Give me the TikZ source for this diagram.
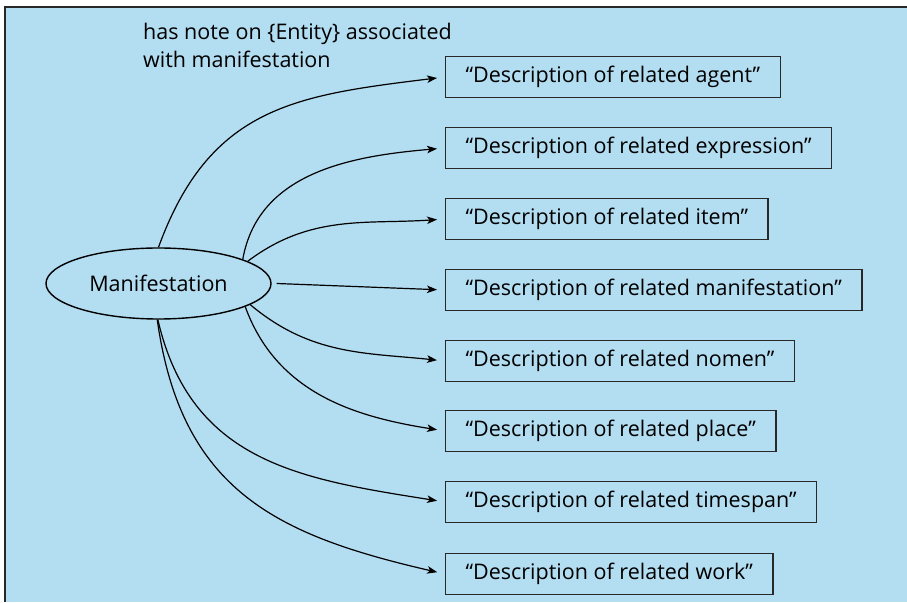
\documentclass[tikz,border=0pt]{standalone}
\usepackage{fontspec}
\setmainfont{Open Sans}
\usetikzlibrary{arrows.meta,shapes.geometric}
\definecolor{panel}{RGB}{179,221,241}
\definecolor{edge}{RGB}{40,40,40}
\begin{document}
\begin{tikzpicture}[x=1pt,y=1pt,
  labelfont/.style={font=\fontsize{21.5}{28}\selectfont},
  desc/.style={draw=edge, line width=1.3pt, anchor=west, minimum height=41pt,
    inner xsep=20pt, labelfont},
  link/.style={-{Stealth[length=10pt,width=7.5pt,inset=2.5pt]}, line width=1.2pt,
    shorten >=8pt},
]
\useasboundingbox (0,0) rectangle (907,602);
% panel with dark edge on top and left
\fill[panel] (5,0) rectangle (907,595);
\draw[edge, line width=1.5pt] (5,0) -- (5,595) -- (907,595);

% central entity
\node[ellipse, draw, line width=1.4pt, minimum width=225pt, minimum height=71pt,
  inner sep=0pt, labelfont] (M) at (158.5,318.5) {Manifestation};

% relationship label
\node[labelfont, align=left, anchor=base west, inner sep=0pt] (T) at (143,534)
  {has note on \{Entity\} associated\\with manifestation};

% description boxes
\node[desc] (A) at (445,525) {“Description of related agent”};
\node[desc] (B) at (445,454) {“Description of related expression”};
\node[desc] (C) at (445,383) {“Description of related item”};
\node[desc] (D) at (445,312) {“Description of related manifestation”};
\node[desc] (E) at (445,241) {“Description of related nomen”};
\node[desc] (F) at (445,171) {“Description of related place”};
\node[desc] (G) at (445,100) {“Description of related timespan”};
\node[desc] (H) at (445,28)  {“Description of related work”};

% connectors
\draw[link] (M.north) to[out=70, in=187, looseness=1.15] (A.west);
\draw[link] (M.16) to[out=80, in=185] (B.west);
\draw[link] (M.14) to[out=37, in=184] (C.west);
\draw[link] ([xshift=5pt]M.east) -- (D.west);
\draw[link] (M.-13) to[out=-40, in=174] (E.west);
\draw[link] (M.-15) to[out=-70, in=171] (F.west);
\draw[link] (M.-91) to[out=-77, in=171, looseness=1.1] (G.west);
\draw[link] (M.-92) to[out=-82, in=167, looseness=1.15] (H.west);
\end{tikzpicture}
\end{document}
